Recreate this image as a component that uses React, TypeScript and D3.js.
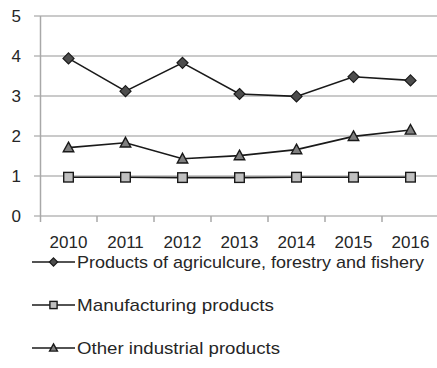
import React from "react";
import * as d3 from "d3";

const years = ["2010", "2011", "2012", "2013", "2014", "2015", "2016"];
const agriculture = [3.94, 3.12, 3.83, 3.05, 2.99, 3.48, 3.39];
const manufacturing = [0.97, 0.97, 0.96, 0.96, 0.97, 0.97, 0.97];
const otherIndustrial = [1.71, 1.83, 1.43, 1.51, 1.66, 1.99, 2.15];
const yTicks = [0, 1, 2, 3, 4, 5];
const seriesNames = [
  "Products of agriculcure, forestry and fishery",
  "Manufacturing products",
  "Other industrial products",
];

const W = 437;
const H = 368;
const FONT = "'Liberation Sans', Arial, sans-serif";

type Shape = "diamond" | "square" | "triangle";

function Marker({ shape, x, y, s, fill }: { shape: Shape; x: number; y: number; s: number; fill: string }) {
  const stroke = "#1a1a1a";
  if (shape === "diamond") {
    const p = `${x},${y - s} ${x + s},${y} ${x},${y + s} ${x - s},${y}`;
    return <polygon points={p} fill={fill} stroke={stroke} strokeWidth={1.2} />;
  }
  if (shape === "square") {
    return <rect x={x - s} y={y - s} width={2 * s} height={2 * s} fill={fill} stroke={stroke} strokeWidth={1.4} />;
  }
  const h = s * 1.1;
  const p = `${x},${y - h} ${x + s * 1.05},${y + h * 0.75} ${x - s * 1.05},${y + h * 0.75}`;
  return <polygon points={p} fill={fill} stroke={stroke} strokeWidth={1.4} />;
}

export default function App() {
  const x = d3.scaleBand<string>().domain(years).range([40, 439]);
  const y = d3.scaleLinear().domain([0, 5]).range([216, 16]);
  const cx = (d: string) => (x(d) as number) + x.bandwidth() / 2;

  const series: { values: number[]; shape: Shape; fill: string; size: number }[] = [
    { values: agriculture, shape: "diamond", fill: "#4d4d4d", size: 5.5 },
    { values: manufacturing, shape: "square", fill: "#c0c0c0", size: 4.8 },
    { values: otherIndustrial, shape: "triangle", fill: "#7f7f7f", size: 5 },
  ];

  const line = d3
    .line<number>()
    .x((_, i) => cx(years[i]))
    .y((v) => y(v));

  const legendRows = [262, 305, 348];
  const legendWidths = [347, 197, 203];

  return (
    <svg
      width={W}
      height={H}
      style={{ position: "absolute", left: 0, top: 0, background: "#fff" }}
      fontFamily={FONT}
    >
      {/* horizontal gridlines */}
      {yTicks.map((t) => (
        <line key={t} x1={34} x2={W} y1={y(t)} y2={y(t)} stroke="#b8b8b8" strokeWidth={1.5} />
      ))}
      {/* axes */}
      <line x1={40.5} x2={40.5} y1={y(5)} y2={222} stroke="#a8a8a8" strokeWidth={1.5} />
      {years.map((d) => (
        <line key={d} x1={(x(d) as number) + x.bandwidth()} x2={(x(d) as number) + x.bandwidth()} y1={216} y2={222} stroke="#a8a8a8" strokeWidth={1.5} />
      ))}
      {/* y labels */}
      {yTicks.map((t) => (
        <text key={t} x={21} y={y(t)} dy="0.35em" textAnchor="end" fontSize={17} fill="#262626">
          {t}
        </text>
      ))}
      {/* x labels */}
      {years.map((d) => (
        <text key={d} x={cx(d)} y={248} textAnchor="middle" fontSize={17} fill="#262626">
          {d}
        </text>
      ))}
      {/* series */}
      {series.map((s, si) => (
        <g key={si}>
          <path d={line(s.values) || ""} fill="none" stroke="#1a1a1a" strokeWidth={1.6} />
          {s.values.map((v, i) => (
            <Marker key={i} shape={s.shape} x={cx(years[i])} y={y(v)} s={s.size} fill={s.fill} />
          ))}
        </g>
      ))}
      {/* legend */}
      {series.map((s, si) => (
        <g key={si}>
          <line x1={32} x2={75} y1={legendRows[si]} y2={legendRows[si]} stroke="#1a1a1a" strokeWidth={1.6} />
          <Marker shape={s.shape} x={53.5} y={legendRows[si]} s={s.size * 0.75} fill={s.fill} />
          <text
            x={77}
            y={legendRows[si] + 6}
            fontSize={17}
            fill="#262626"
            textLength={legendWidths[si]}
            lengthAdjust="spacingAndGlyphs"
          >
            {seriesNames[si]}
          </text>
        </g>
      ))}
    </svg>
  );
}
